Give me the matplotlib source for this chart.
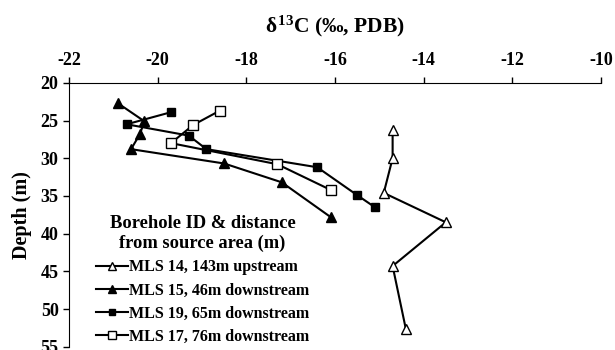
import matplotlib
matplotlib.use('Agg')
import matplotlib.pyplot as plt

# MLS 14, 143m upstream
mls14_x = [-14.7, -14.7, -14.9, -13.5, -14.7, -14.4]
mls14_depth = [26.2, 30.0, 34.6, 38.5, 44.3, 52.7]
# MLS 15, 46m downstream
mls15_x = [-20.9, -20.3, -20.4, -20.6, -18.5, -17.2, -16.1]
mls15_depth = [22.7, 25.1, 26.8, 28.8, 30.7, 33.2, 37.8]
# MLS 19, 65m downstream
mls19_x = [-19.7, -20.7, -19.3, -18.9, -16.4, -15.5, -15.1]
mls19_depth = [23.9, 25.5, 27.0, 28.8, 31.2, 34.9, 36.5]
# MLS 17, 76m downstream
mls17_x = [-18.6, -19.2, -19.7, -17.3, -16.1]
mls17_depth = [23.7, 25.6, 28.0, 30.8, 34.2]

x_ticks = [-22, -20, -18, -16, -14, -12, -10]
y_ticks = [20, 25, 30, 35, 40, 45, 50, 55]

plt.rcParams['font.family'] = ['Liberation Serif', 'DejaVu Serif']
plt.rcParams['font.weight'] = 'bold'
plt.rcParams['axes.unicode_minus'] = False
plt.rcParams['mathtext.fontset'] = 'custom'
plt.rcParams['mathtext.rm'] = 'Liberation Serif:bold'
plt.rcParams['mathtext.it'] = 'Liberation Serif:bold'
plt.rcParams['mathtext.bf'] = 'Liberation Serif:bold'

fig = plt.figure(figsize=(6.15, 3.5), dpi=100)
ax = fig.add_axes([0.1122, 0.0094, 0.865, 0.754])

lw = 1.5
ax.plot(mls14_x, mls14_depth, color='black', lw=lw, marker='^', ms=7,
        mfc='white', mec='black', mew=1, label='MLS 14, 143m upstream')
ax.plot(mls15_x, mls15_depth, color='black', lw=lw, marker='^', ms=7,
        mfc='black', mec='black', label='MLS 15, 46m downstream')
ax.plot(mls19_x, mls19_depth, color='black', lw=lw, marker='s', ms=5.5,
        mfc='black', mec='black', label='MLS 19, 65m downstream')
ax.plot(mls17_x, mls17_depth, color='black', lw=lw, marker='s', ms=6.5,
        mfc='white', mec='black', mew=1, label='MLS 17, 76m downstream')

ax.set_xlim(-22, -10)
ax.set_ylim(55, 20)
ax.set_xticks(x_ticks)
ax.set_yticks(y_ticks)
ax.xaxis.tick_top()
ax.xaxis.set_label_position('top')
ax.spines['right'].set_visible(False)
ax.spines['bottom'].set_visible(False)
ax.tick_params(axis='both', direction='out', length=4, width=1, labelsize=13)
ax.tick_params(axis='x', pad=6)
for lab in ax.get_xticklabels() + ax.get_yticklabels():
    lab.set_fontweight('bold')
ax.set_xlabel(r'$\delta^{13}$C (‰, PDB)', fontsize=15.5, fontweight='bold', labelpad=14)
ax.set_ylabel('Depth (m)', fontsize=14.5, fontweight='bold', labelpad=6)

leg = ax.legend(loc='lower left', bbox_to_anchor=(0.032, -0.03), frameon=False,
                title='Borehole ID & distance\nfrom source area (m)',
                prop={'weight': 'bold', 'size': 11.5},
                title_fontproperties={'weight': 'bold', 'size': 13.3},
                handlelength=2.0, handletextpad=0.1, labelspacing=0.45,
                markerscale=0.85, borderaxespad=0.2)
leg._legend_box.align = 'center'
leg.get_title().set_multialignment('center')

fig.savefig('out.png', dpi=100)
